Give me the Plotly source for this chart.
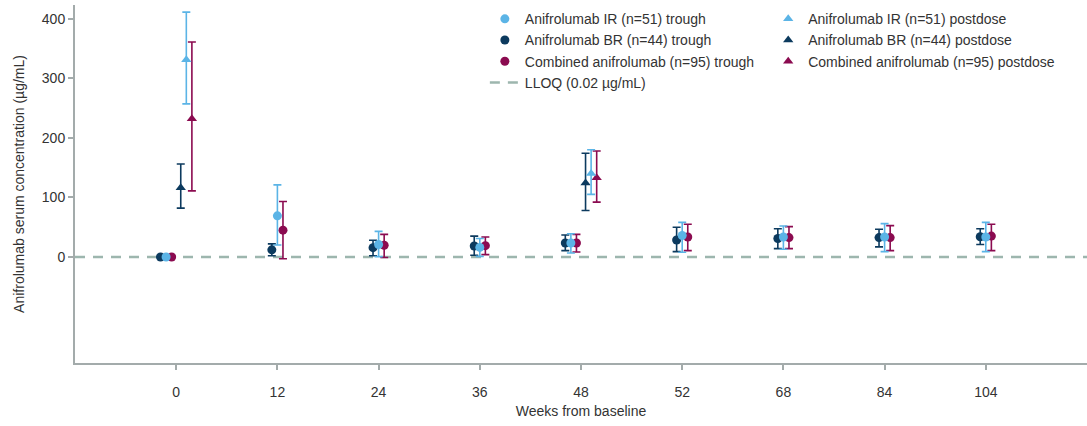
import plotly.graph_objects as go

# weeks on the x axis (categorical, equally spaced)
weeks = ["0", "12", "24", "36", "48", "52", "68", "84", "104"]

# trough concentrations (µg/mL): mean, upper and lower end of error bar
ir_trough = [0, 69, 21, 16, 23.5, 36, 33.6, 33.6, 33.6]
ir_trough_hi = [0, 121, 43, 31, 39, 58, 52, 56, 58]
ir_trough_lo = [0, 20, 0.5, 1, 6.7, 8, 13, 9, 9]

br_trough = [0, 12, 15.6, 18.5, 23.5, 28.5, 31, 32.5, 34]
br_trough_hi = [0, 22, 28, 35, 37, 50, 47.5, 46.5, 47.5]
br_trough_lo = [0, 2, 2, 3, 10.6, 9, 14, 17, 21]

comb_trough = [0, 45, 19.6, 19, 23.5, 33.6, 32.5, 32.5, 35]
comb_trough_hi = [0, 93, 38, 33.6, 38, 55, 51, 52.6, 55]
comb_trough_lo = [0, -3, -1, 4, 8.4, 10.6, 14, 10.6, 10.6]

# postdose concentrations, only measured at week 0 and week 48
ir_post = [331, None, None, None, 140, None, None, None, None]
ir_post_hi = [411, None, None, None, 180, None, None, None, None]
ir_post_lo = [257, None, None, None, 105, None, None, None, None]

br_post = [116, None, None, None, 124, None, None, None, None]
br_post_hi = [156, None, None, None, 174, None, None, None, None]
br_post_lo = [82, None, None, None, 78, None, None, None, None]

comb_post = [232, None, None, None, 133, None, None, None, None]
comb_post_hi = [361, None, None, None, 178, None, None, None, None]
comb_post_lo = [111, None, None, None, 92, None, None, None, None]

LLOQ = 0.02

IR_COLOR = "#5bb4e6"
BR_COLOR = "#0c3a5e"
COMB_COLOR = "#8b0b50"
LLOQ_COLOR = "#9db6ae"
AXIS_COLOR = "#a3abab"
TEXT_COLOR = "#333333"

GROUP_STEP = 0.055  # horizontal dodge between the three groups
PAIR_SHIFT = 0.1    # trough / postdose split where both exist


def err(mean, hi, lo):
        plus = [None if m is None else h - m for m, h in zip(mean, hi)]
        minus = [None if m is None else m - l for m, l in zip(mean, lo)]
        return plus, minus


has_post = [p is not None for p in ir_post]

fig = go.Figure()

series = [
        # name, colour, dodge, trough data, postdose data, legend rank
        ("Anifrolumab BR (n=44)", BR_COLOR, -1, (br_trough, br_trough_hi, br_trough_lo),
         (br_post, br_post_hi, br_post_lo), 2),
        ("Combined anifrolumab (n=95)", COMB_COLOR, 1, (comb_trough, comb_trough_hi, comb_trough_lo),
         (comb_post, comb_post_hi, comb_post_lo), 3),
        ("Anifrolumab IR (n=51)", IR_COLOR, 0, (ir_trough, ir_trough_hi, ir_trough_lo),
         (ir_post, ir_post_hi, ir_post_lo), 1),
]

for name, color, dodge, trough, post, rank in series:
        x_trough = [i + dodge * GROUP_STEP - (PAIR_SHIFT if has_post[i] else 0) for i in range(len(weeks))]
        x_post = [i + dodge * GROUP_STEP + PAIR_SHIFT for i in range(len(weeks))]

        plus, minus = err(*trough)
        fig.add_trace(go.Scatter(
                x=x_trough, y=trough[0], mode="markers", name=name + " trough",
                marker=dict(color=color, size=9, symbol="circle"),
                error_y=dict(type="data", array=plus, arrayminus=minus, color=color,
                             thickness=1.6, width=4),
                legend="legend", legendrank=rank,
        ))

        plus, minus = err(*post)
        fig.add_trace(go.Scatter(
                x=x_post, y=post[0], mode="markers", name=name + " postdose",
                marker=dict(color=color, size=9, symbol="triangle-up"),
                error_y=dict(type="data", array=plus, arrayminus=minus, color=color,
                             thickness=1.6, width=4),
                legend="legend2", legendrank=rank,
        ))

fig.add_shape(
        type="line", xref="paper", x0=0, x1=1, yref="y", y0=LLOQ, y1=LLOQ,
        line=dict(color=LLOQ_COLOR, width=2.5, dash="10px,8px"),
        layer="below", showlegend=True, name="LLOQ (0.02 µg/mL)", legend="legend",
)

fig.update_layout(
        width=1087, height=426,
        margin=dict(l=75, r=0, t=5, b=63),
        paper_bgcolor="white", plot_bgcolor="white",
        font=dict(family="Liberation Sans, Arial, sans-serif", size=14, color=TEXT_COLOR),
        showlegend=True,
        legend=dict(x=0.405, y=1.005, xanchor="left", yanchor="top", bgcolor="rgba(0,0,0,0)",
                    font=dict(size=14), tracegroupgap=0),
        legend2=dict(x=0.685, y=1.005, xanchor="left", yanchor="top", bgcolor="rgba(0,0,0,0)",
                     font=dict(size=14), tracegroupgap=0),
)

fig.update_xaxes(
        range=[-1, 9], tickmode="array", tickvals=list(range(len(weeks))), ticktext=weeks,
        showline=True, linecolor=AXIS_COLOR, linewidth=2, showgrid=False, zeroline=False,
        ticks="outside", ticklen=5, tickcolor=AXIS_COLOR, tickwidth=1.5,
        ticklabelstandoff=10,
        title=dict(text="Weeks from baseline", standoff=7, font=dict(size=14)),
)

fig.update_yaxes(
        range=[-178, 423], tickvals=[0, 100, 200, 300, 400],
        showline=True, linecolor=AXIS_COLOR, linewidth=2, showgrid=False, zeroline=False,
        ticks="outside", ticklen=5, tickcolor=AXIS_COLOR, tickwidth=1.5,
        title=dict(text="Anifrolumab serum concentration (µg/mL)", standoff=14, font=dict(size=14)),
)

# the page body has a default margin; drop it so the figure sits at the window corner
fig.write_html("out.html", config={"displayModeBar": False},
               post_script="document.body.style.margin='0';")
